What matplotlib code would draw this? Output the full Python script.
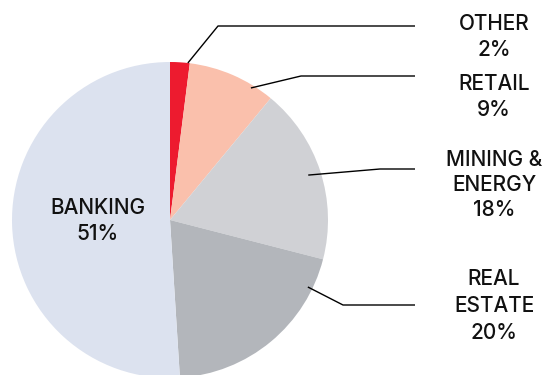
import matplotlib
matplotlib.use("Agg")
import matplotlib.pyplot as plt
import numpy as np

# Sector breakdown
categories = ["OTHER", "RETAIL", "MINING &\nENERGY", "REAL\nESTATE", "BANKING"]
shares = [2, 9, 18, 20, 51]
colors = ["#ED1B2F", "#FAC0AC", "#D0D1D5", "#B3B6BB", "#DCE2EF"]

W, H = 545, 375
plt.rcParams["font.family"] = ["Inter", "DejaVu Sans"]

fig = plt.figure(figsize=(W / 100, H / 100), dpi=100)
ax = fig.add_axes([0, 0, 1, 1])

def py(y):
    # convert a top-down pixel row into the axes' upward y
    return H - y

cx, cy, R = 170, py(220), 158
wedges, _ = ax.pie(shares, colors=colors, startangle=90, counterclock=False,
                   center=(cx, cy), radius=R, frame=True,
                   wedgeprops=dict(linewidth=0))
ax.set_xlim(0, W)
ax.set_ylim(0, H)
ax.set_aspect("equal")
ax.axis("off")

# leader lines: anchor inside wedge (fraction of span measured clockwise,
# fraction of radius), elbow point, then horizontal run to the label column
leaders = {
    0: (0.9, 1.0, (218, 26)),
    1: (0.75, 0.98, (301, 76)),
    2: (0.5, 0.92, (380, 169)),
    3: (0.16, 0.97, (343, 305)),
}
line_end_x = 415
label_x = 494
label_y = {0: 37, 1: 97, 2: 185, 3: 306}
label_ls = {0: 1.32, 1: 1.32, 2: 1.32, 3: 1.45}

fs = 15
for i, (frac, rf, (ex, ey)) in leaders.items():
    w = wedges[i]
    ang = np.deg2rad(w.theta2 - frac * (w.theta2 - w.theta1))
    ax_ = cx + rf * R * np.cos(ang)
    ay_ = cy + rf * R * np.sin(ang)
    ax.plot([ax_, ex, line_end_x], [ay_, py(ey), py(ey)],
            color="black", lw=1.0, solid_capstyle="butt")
    ax.text(label_x, py(label_y[i]), f"{categories[i]}\n{shares[i]}%",
            ha="center", va="center", fontsize=fs, linespacing=label_ls[i],
            color="#111111", fontweight="medium")

ax.text(98, py(221), f"{categories[4]}\n{shares[4]}%", ha="center",
        va="center", fontsize=fs, linespacing=1.32, color="#111111",
        fontweight="medium")

fig.savefig("out.png", dpi=100, facecolor="white")
